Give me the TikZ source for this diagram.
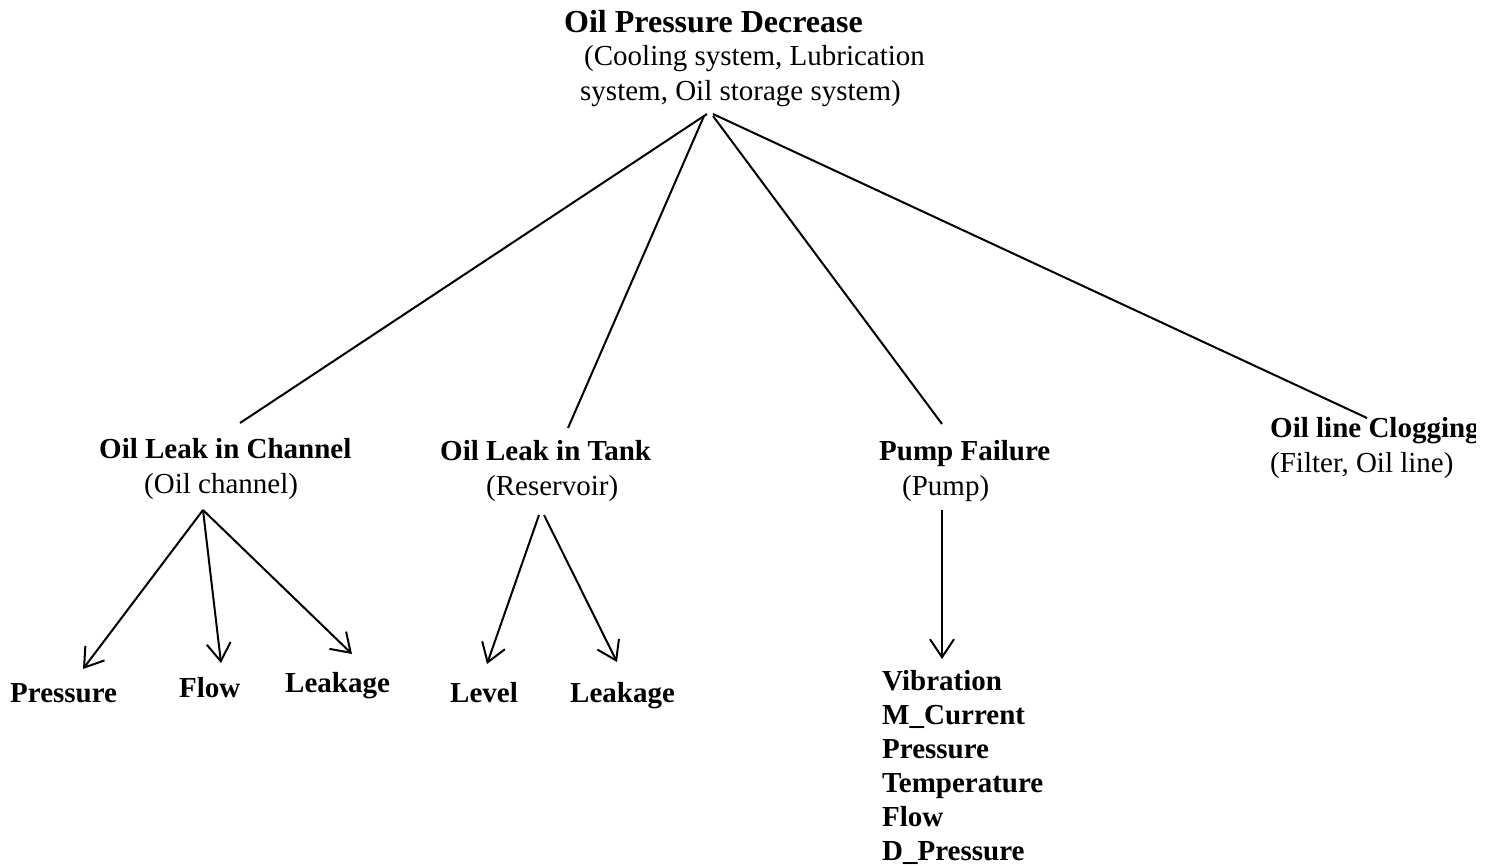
\documentclass[tikz,border=0pt]{standalone}
\usepackage{fontspec}
\setmainfont{Liberation Serif}
\usetikzlibrary{arrows.meta}
\begin{document}
\begin{tikzpicture}[x=1pt,y=-1pt,
  lbl/.style={inner sep=0pt, anchor=base west, font=\fontsize{29}{34}\selectfont},
  blbl/.style={inner sep=0pt, anchor=base west, font=\fontsize{29}{34}\selectfont\bfseries},
  link/.style={line width=2pt},
  arr/.style={link, -{Straight Barb[length=18pt,width=24pt]}}
]
\useasboundingbox (0,0) rectangle (1496,867);

% root event
\node[blbl, font=\fontsize{32}{36}\selectfont\bfseries] (root) at (564,33) {Oil Pressure Decrease};
\node[lbl] (rootB) at (584,66) {(Cooling system, Lubrication};
\node[lbl] (rootC) at (580,100) {system, Oil storage system)};

% second level faults
\node[blbl] (chan) at (99,458) {Oil Leak in Channel};
\node[lbl] (chanB) at (144,493) {(Oil channel)};
\node[blbl] (tank) at (440,460) {Oil Leak in Tank};
\node[lbl] (tankB) at (486,495) {(Reservoir)};
\node[blbl] (pump) at (879,460) {Pump Failure};
\node[lbl] (pumpB) at (902,495) {(Pump)};
\begin{scope}
  \clip (1240,400) rectangle (1475,450);
  \node[blbl] (clog) at (1270,437) {Oil line Clogging};
\end{scope}
\node[lbl] (clogB) at (1270,472) {(Filter, Oil line)};

% measured symptoms
\node[blbl] (chP) at (10,702) {Pressure};
\node[blbl] (chF) at (179,697) {Flow};
\node[blbl] (chL) at (285,692) {Leakage};
\node[blbl] (tkV) at (450,702) {Level};
\node[blbl] (tkL) at (570,702) {Leakage};
\foreach \t [count=\i from 0] in {Vibration,M\_Current,Pressure,Temperature,Flow,D\_Pressure}
  \node[blbl] (pm\i) at (882,690+34*\i) {\t};

% connector end points
\coordinate (rootL) at (707,114);
\coordinate (rootM) at (704,116);
\coordinate (rootR) at (713,116);
\coordinate (rootRR) at (713,114);
\coordinate (chanIn) at (240,423);
\coordinate (tankIn) at (568,428);
\coordinate (pumpIn) at (942,424);
\coordinate (clogIn) at (1367,418);
\coordinate (chanOut) at (203,510);
\coordinate (tankOutL) at (539,515);
\coordinate (tankOutR) at (544,515);
\coordinate (pumpOut) at (942,510);
\coordinate (chPTip) at (83,669);
\coordinate (chFTip) at (221,663);
\coordinate (chLTip) at (352,654);
\coordinate (tkVTip) at (487,664);
\coordinate (tkLTip) at (617,662);
\coordinate (pmTip) at (942,659);

% root to faults
\draw[link] (rootL) -- (chanIn);
\draw[link] (rootM) -- (tankIn);
\draw[link] (rootR) -- (pumpIn);
\draw[link] (rootRR) -- (clogIn);

% faults to symptoms
\draw[arr] (chanOut) -- (chPTip);
\draw[arr] (chanOut) -- (chFTip);
\draw[arr] (chanOut) -- (chLTip);
\draw[arr] (tankOutL) -- (tkVTip);
\draw[arr] (tankOutR) -- (tkLTip);
\draw[arr] (pumpOut) -- (pmTip);
\end{tikzpicture}
\end{document}
